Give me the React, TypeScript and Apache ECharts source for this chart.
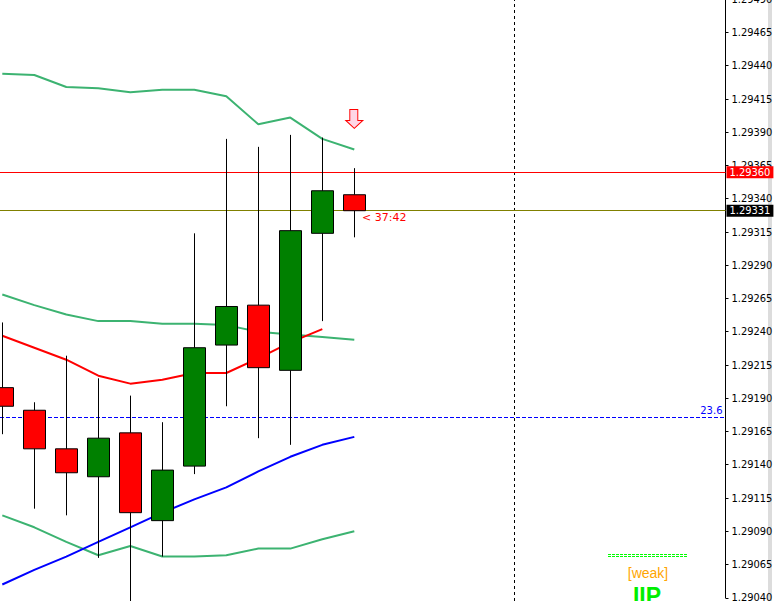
import React, { useEffect, useRef } from "react";
import * as echarts from "echarts";

// bar slots (12 drawn bars + empty future slots on the right)
const categories = ["1", "2", "3", "4", "5", "6", "7", "8", "9", "10", "11", "12", "13", "14", "15", "16", "17", "18", "19", "20", "21", "22", "23"];

const open = [1.29198, 1.29181, 1.29152, 1.29131, 1.29164, 1.29098, 1.29139, 1.2923, 1.2926, 1.29211, 1.29314, 1.29343];
const close = [1.29184, 1.29152, 1.29134, 1.2916, 1.29104, 1.29136, 1.29228, 1.29259, 1.29213, 1.29316, 1.29346, 1.29331];
const low = [1.29163, 1.29107, 1.29102, 1.2907, 1.29037, 1.29071, 1.29133, 1.29184, 1.2916, 1.29155, 1.29248, 1.29311];
const high = [1.29247, 1.29187, 1.29222, 1.29205, 1.29192, 1.29172, 1.29314, 1.29385, 1.29379, 1.29388, 1.29386, 1.29363];

const upperBand = [1.29434, 1.29433, 1.29424, 1.29423, 1.2942, 1.29422, 1.29422, 1.29417, 1.29396, 1.29401, 1.29385, 1.29377];
const middleBand = [1.29268, 1.2926, 1.29253, 1.29248, 1.29248, 1.29246, 1.29246, 1.29245, 1.2924, 1.29238, 1.29236, 1.29234];
const lowerBand = [1.29102, 1.29093, 1.29082, 1.29072, 1.29079, 1.29071, 1.29071, 1.29072, 1.29077, 1.29077, 1.29084, 1.2909];
const redMA = [1.29237, 1.29228, 1.29219, 1.29207, 1.29201, 1.29204, 1.29209, 1.29209, 1.2922, 1.29232, 1.29242, null];
const blueMA = [1.2905, 1.29061, 1.29071, 1.29082, 1.29093, 1.29104, 1.29114, 1.29123, 1.29135, 1.29146, 1.29155, 1.29161];

const askPrice = 1.2936;
const bidPrice = 1.29331;
const fibPrice = 1.29176;
const fibLabel = "23.6";
const arrowPrice = 1.294;
const arrowBar = 11;
const separatorBar = 16;
const timerText = "< 37:42";
const zoneText = "[weak]";
const zoneTag = "IIP";

const axisMin = 1.2904;
const axisMax = 1.2949;
const axisStep = 0.00025;
const viewMin = 1.290376;
const viewMax = 1.294894;

const AXIS_FONT = "'Liberation Sans Narrow', 'DejaVu Sans Condensed', Tahoma, sans-serif";

export default function App() {
  const ref = useRef<HTMLDivElement>(null);
  useEffect(() => {
    if (!ref.current) return;
    const chart = echarts.init(ref.current, null, { renderer: "svg" });
    const candles = open.map((o, i) => [o, close[i], low[i], high[i]]);
    const lineBase = {
      type: "line" as const,
      xAxisIndex: 0,
      yAxisIndex: 0,
      symbol: "none",
      smooth: false,
      silent: true,
      z: 2,
    };
    const priceLabel = (bg: string, price: number) => ({
      show: true,
      position: "end",
      distance: 1,
      formatter: price.toFixed(5),
      backgroundColor: bg,
      color: "#ffffff",
      padding: [1, 3, 0, 3],
      fontSize: 11,
      fontFamily: AXIS_FONT,
    });
    const hLine = (price: number, lineStyle: any, label: any) => [
      { coord: [0, price], lineStyle, label },
      { coord: [1, price] },
    ];
    chart.setOption({
      animation: false,
      backgroundColor: "#ffffff",
      grid: [
        { left: -13.7, right: 57.7, top: 0, bottom: 0, containLabel: false, outerBoundsMode: "none" },
        { left: 0, right: 54.5, top: -0.75, bottom: 3.25, containLabel: false, outerBoundsMode: "none" },
      ],
      xAxis: [
        { type: "category", gridIndex: 0, data: categories, boundaryGap: true, show: false },
        { type: "value", gridIndex: 1, min: 0, max: 1, show: false },
      ],
      yAxis: [
        { type: "value", gridIndex: 0, min: viewMin, max: viewMax, show: false, scale: true },
        {
          type: "value",
          gridIndex: 1,
          position: "right",
          min: axisMin,
          max: axisMax,
          interval: axisStep,
          scale: true,
          axisLine: { show: true, onZero: false, lineStyle: { color: "#000000", width: 1 } },
          axisTick: { show: true, length: 3, lineStyle: { color: "#000000" } },
          splitLine: { show: false },
          axisLabel: {
            color: "#000000",
            fontSize: 11,
            fontFamily: AXIS_FONT,
            margin: 6,
            formatter: (v: number) => v.toFixed(5),
          },
        },
      ],
      series: [
        { ...lineBase, name: "upper", data: upperBand, lineStyle: { color: "#3cb371", width: 2 } },
        { ...lineBase, name: "middle", data: middleBand, lineStyle: { color: "#3cb371", width: 2 } },
        { ...lineBase, name: "lower", data: lowerBand, lineStyle: { color: "#3cb371", width: 2 } },
        { ...lineBase, name: "ma-red", data: redMA, lineStyle: { color: "#ff0000", width: 2 } },
        { ...lineBase, name: "ma-blue", data: blueMA, lineStyle: { color: "#0000ff", width: 2 } },
        {
          type: "candlestick",
          xAxisIndex: 0,
          yAxisIndex: 0,
          data: candles,
          barWidth: 23,
          silent: true,
          z: 5,
          itemStyle: {
            color: "#008000",
            color0: "#ff0000",
            borderColor: "#000000",
            borderColor0: "#000000",
            borderWidth: 1,
          },
          markLine: {
            silent: true,
            symbol: ["none", "none"],
            label: { show: false },
            lineStyle: { color: "#000000", type: [3, 3], width: 1 },
            data: [{ xAxis: categories[separatorBar] }],
          },
          markPoint: {
            silent: true,
            symbol: "path://M4,0 L12,0 L12,11 L17,11 L8.5,19 L0,11 L4,11 Z",
            symbolSize: [17, 19],
            itemStyle: { color: "#ffd6e6", borderColor: "#ff0000", borderWidth: 1 },
            label: { show: false },
            data: [{ coord: [categories[arrowBar], arrowPrice] }],
          },
        },
        {
          type: "scatter",
          name: "levels",
          xAxisIndex: 1,
          yAxisIndex: 1,
          data: [[0.5, bidPrice]],
          symbolSize: 0,
          itemStyle: { opacity: 0 },
          silent: true,
          z: 6,
          markLine: {
            silent: true,
            symbol: ["none", "none"],
            data: [
              hLine(askPrice, { color: "#ff0000", type: "solid", width: 1 }, priceLabel("#ff0000", askPrice)),
              hLine(bidPrice, { color: "#808000", type: "solid", width: 1 }, priceLabel("#000000", bidPrice)),
              hLine(fibPrice, { color: "#0000ff", type: [4, 2], width: 1 }, {
                show: true,
                position: "insideEndTop",
                distance: [3, 1],
                formatter: fibLabel,
                color: "#0000ff",
                fontSize: 10,
                fontFamily: "Tahoma, 'DejaVu Sans', sans-serif",
              }),
            ],
          },
        },
      ],
      graphic: [
        { type: "rect", left: 768, top: 0, shape: { width: 4, height: 601 }, style: { fill: "#dcdcdc" }, silent: true },
        {
          type: "text",
          x: 362,
          y: 217,
          style: {
            text: timerText,
            fill: "#ff0000",
            fontSize: 11,
            fontFamily: "Tahoma, 'DejaVu Sans', sans-serif",
            verticalAlign: "middle",
            align: "left",
          },
          silent: true,
        },
        {
          type: "line",
          shape: { x1: 608, y1: 554.5, x2: 688, y2: 554.5 },
          style: { stroke: "#00ff00", lineWidth: 1, lineDash: [3, 1] },
          silent: true,
        },
        {
          type: "line",
          shape: { x1: 608, y1: 556.5, x2: 688, y2: 556.5 },
          style: { stroke: "#00ff00", lineWidth: 1, lineDash: [3, 1] },
          silent: true,
        },
        {
          type: "text",
          x: 648,
          y: 573,
          style: {
            text: zoneText,
            fill: "#ffa500",
            fontSize: 14,
            fontFamily: "'Liberation Sans', Arial, sans-serif",
            align: "center",
            verticalAlign: "middle",
          },
          silent: true,
        },
        {
          type: "text",
          x: 647,
          y: 584,
          style: {
            text: zoneTag,
            fill: "#00ee00",
            fontSize: 23,
            fontWeight: "bold",
            fontFamily: "'Liberation Sans Narrow', 'Liberation Sans', Arial, sans-serif",
            align: "center",
            verticalAlign: "top",
          },
          silent: true,
        },
      ],
    });
    return () => chart.dispose();
  }, []);
  return (
    <div
      ref={ref}
      style={{ position: "absolute", left: 0, top: 0, width: 780, height: 601, background: "#ffffff" }}
    />
  );
}
